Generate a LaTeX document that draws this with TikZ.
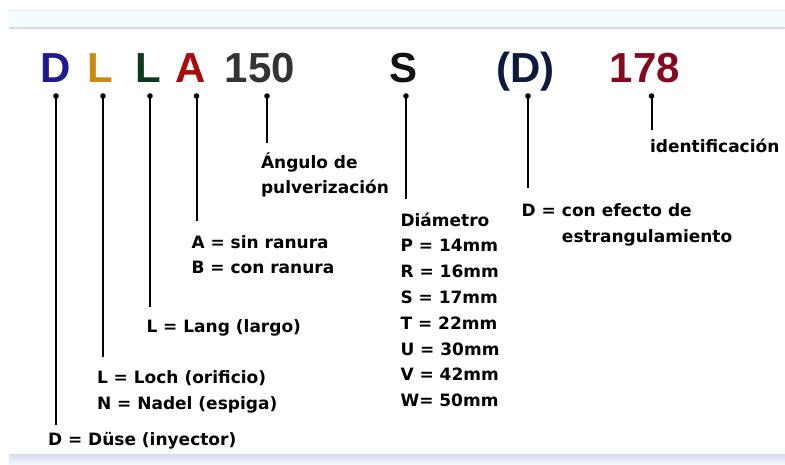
\documentclass[tikz,border=0pt]{standalone}
\usepackage{fontspec}
\setmainfont{Liberation Sans}
\newfontfamily\descfont{DejaVu Sans}
\usetikzlibrary{positioning}

\definecolor{cD}{HTML}{1C1A8C}
\definecolor{cL}{HTML}{C98A12}
\definecolor{cLL}{HTML}{0C3A1E}
\definecolor{cA}{HTML}{A80C0C}
\definecolor{cnum}{HTML}{333333}
\definecolor{cS}{HTML}{111111}
\definecolor{cDD}{HTML}{0C1A3C}
\definecolor{cid}{HTML}{84081E}
\definecolor{bandfill}{HTML}{F4FCFE}
\definecolor{bandtop}{HTML}{E2E6F6}
\definecolor{bandbot}{HTML}{D6DDEC}

\begin{document}
\begin{tikzpicture}[x=1pt, y=-1pt, line width=2pt,
      every node/.append style={inner sep=0pt, outer sep=0pt},
      hdr/.style={anchor=base, font=\fontsize{42}{42}\selectfont\bfseries},
      desc/.style={anchor=base west, align=left, text=black,
        font=\fontsize{17}{25.8}\descfont\bfseries},
      knob/.style={circle, fill=black, minimum size=5.6pt}]
    \useasboundingbox (0,0) rectangle (785,465);
    \fill[bandfill] (9,10) rectangle (785,29);
    \draw[bandtop, line width=1.2pt] (9,10.6) -- (785,10.6);
    \draw[bandbot, line width=1.6pt] (9,28) -- (785,28);
    \shade[top color=bandbot, bottom color=bandfill] (9,454) rectangle (785,465);

    \node[hdr, text=cD] (D) at (55.5,83) {D};
    \node[hdr, text=cL] (L) at (100.5,83) {L};
    \node[hdr, text=cLL] (LL) at (148,83) {L};
    \node[hdr, text=cA] (A) at (190.5,83) {A};
    \node[hdr, text=cnum] (angle) at (260,83) {150};
    \node[hdr, text=cS] (S) at (404,83) {S};
    \node[hdr, text=cDD] (DD) at (525.5,83) {(D)};
    \node[hdr, text=cid] (id) at (645,83) {178};

    \node[knob] (kD) at (56,96) {};
    \node[knob] (kL) at (103,96) {};
    \node[knob] (kLL) at (150,96) {};
    \node[knob] (kA) at (196.5,96) {};
    \node[knob] (kangle) at (267,96) {};
    \node[knob] (kS) at (406,96) {};
    \node[knob] (kDD) at (528,96) {};
    \node[knob] (kid) at (651.5,96) {};

    \coordinate (eD) at (56,425);
    \coordinate (eL) at (103,357);
    \coordinate (eLL) at (150,307);
    \coordinate (eA) at (196.5,221);
    \coordinate (eangle) at (267,143);
    \coordinate (eS) at (406,199);
    \coordinate (eDD) at (528,188);
    \coordinate (eid) at (651.5,130);

    \node[desc] (duse) at (48,445) {D = Düse (inyector)};
    \node[desc] (loch) at (97,409) {L = Loch (orificio)\\N = Nadel (espiga)};
    \node[desc] (lang) at (146.5,333) {L = Lang (largo)};
    \node[desc] (ranura) at (191.5,274) {A = sin ranura\\B = con ranura};
    \node[desc] (angulo) at (261,194) {Ángulo de\\pulverización};
    \node[desc] (diam) at (400.5,406.7) {Diámetro\\P = 14mm\\R = 16mm\\S = 17mm\\T = 22mm\\U = 30mm\\V = 42mm\\W= 50mm};
    \node[desc] (efecto) at (521.7,216.7) {\begin{tabular}[t]{@{}l@{\hspace{6pt}}l@{}}D = & con efecto de\\ & estrangulamiento\end{tabular}};
    \node[desc] (ident) at (650,152.7) {identificación};

    \draw (kD.center) -- (eD);
    \draw (kL.center) -- (eL);
    \draw (kLL.center) -- (eLL);
    \draw (kA.center) -- (eA);
    \draw (kangle.center) -- (eangle);
    \draw (kS.center) -- (eS);
    \draw (kDD.center) -- (eDD);
    \draw (kid.center) -- (eid);
\end{tikzpicture}
\end{document}
